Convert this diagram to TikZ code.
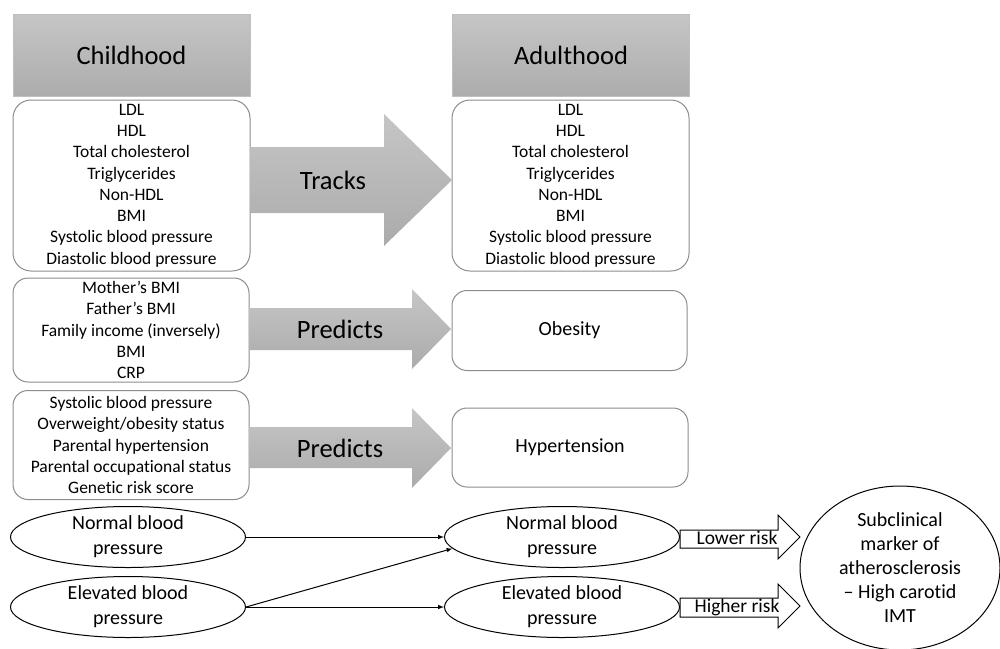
\documentclass[tikz,border=0pt]{standalone}
\usepackage{fontspec}
\setmainfont{Carlito}[Ligatures=NoCommon]
\usetikzlibrary{shapes.geometric}

\tikzset{
  headbox/.style={top color=gray!45, bottom color=gray!65, draw=gray!50,
    minimum width=237pt, minimum height=82pt, font=\fontsize{26.5}{30}\selectfont},
  listbox/.style={draw=gray!90, line width=1pt, rounded corners=18pt, align=center,
    inner sep=0pt, font=\fontsize{17.5}{21.3}\selectfont},
  bparrow/.style={top color=gray!45, bottom color=gray!66},
  arrowlabel/.style={font=\fontsize{26.5}{30}\selectfont},
  bpnode/.style={ellipse, draw, line width=1pt, fill=white, inner sep=0pt, align=center,
    minimum width=235pt, minimum height=61pt, font=\fontsize{20}{25}\selectfont},
  riskarrow/.style={draw, fill=white, line width=1pt},
  risklabel/.style={font=\fontsize{19.5}{20}\selectfont},
  link/.style={line width=1pt, -latex},
}

\begin{document}
\begin{tikzpicture}[x=1pt, y=-1pt]
  \useasboundingbox (0,0) rectangle (1000,648);

  % headers
  \node[headbox] (kidhead) at (131.5,55) {Childhood};
  \node[headbox] (adhead) at (571,55) {Adulthood};

  % tracked factors
  \node[listbox, minimum width=237pt, minimum height=171pt] (kidtrack) at (131.5,185.5)
    {LDL\\HDL\\Total cholesterol\\Triglycerides\\Non-HDL\\BMI\\Systolic blood pressure\\Diastolic blood pressure};
  \node[listbox, minimum width=237pt, minimum height=171pt] (adtrack) at (570.5,185.5)
    {LDL\\HDL\\Total cholesterol\\Triglycerides\\Non-HDL\\BMI\\Systolic blood pressure\\Diastolic blood pressure};
  \shade[bparrow] (250,147) -- (384,147) -- (384,114) -- (452,180)
    -- (384,246) -- (384,213) -- (250,213) -- cycle;
  \node[arrowlabel] (tracks) at (333,180) {Tracks};

  % obesity
  \node[listbox, rounded corners=15pt, minimum width=236pt, minimum height=104pt] (kidobes) at (131,330)
    {Mother’s BMI\\Father’s BMI\\Family income (inversely)\\BMI\\CRP};
  \node[listbox, rounded corners=15pt, minimum width=235pt, minimum height=80pt,
    font=\fontsize{20}{24}\selectfont] (obesity) at (569.5,330.5) {Obesity};
  \shade[bparrow] (249,308) -- (412,308) -- (412,289) -- (451,329)
    -- (412,369) -- (412,350) -- (249,350) -- cycle;
  \node[arrowlabel] (predobes) at (340,329) {Predicts};

  % hypertension
  \node[listbox, rounded corners=15pt, minimum width=236pt, minimum height=109pt] (kidhyp) at (131,445)
    {Systolic blood pressure\\Overweight/obesity status\\Parental hypertension\\Parental occupational status\\Genetic risk score};
  \node[listbox, rounded corners=15pt, minimum width=236pt, minimum height=79pt,
    font=\fontsize{20}{24}\selectfont] (hyper) at (570,447.5) {Hypertension};
  \shade[bparrow] (249,427) -- (412,427) -- (412,408) -- (451,448)
    -- (412,488) -- (412,468) -- (249,468) -- cycle;
  \node[arrowlabel] (predhyp) at (340,448) {Predicts};

  % blood pressure paths
  \node[bpnode] (kidnormal) at (128,537) {Normal blood\\pressure};
  \node[bpnode] (kidelev) at (128,607) {Elevated blood\\pressure};
  \node[bpnode] (adnormal) at (562,537) {Normal blood\\pressure};
  \node[bpnode] (adelev) at (562,607) {Elevated blood\\pressure};
  \draw[link] (kidnormal.east) -- (adnormal.west);
  \draw[link] (kidelev.east) -- (adnormal.186);
  \draw[link] (kidelev.east) -- (adelev.west);

  \node[ellipse, draw, line width=1pt, inner sep=0pt, align=center,
    minimum width=200pt, minimum height=164pt, font=\fontsize{20}{24}\selectfont] (imt) at (900,568)
    {Subclinical\\marker of\\atherosclerosis\\– High carotid\\IMT};

  \draw[riskarrow] (680,530) -- (778,530) -- (778,515) -- (800,537)
    -- (778,559) -- (778,548) -- (680,548) -- cycle;
  \node[risklabel] (lower) at (737,538) {Lower risk};
  \draw[riskarrow] (680,598) -- (778,598) -- (778,584) -- (800,606)
    -- (778,628) -- (778,617) -- (680,617) -- cycle;
  \node[risklabel] (higher) at (737,607) {Higher risk};
\end{tikzpicture}
\end{document}
